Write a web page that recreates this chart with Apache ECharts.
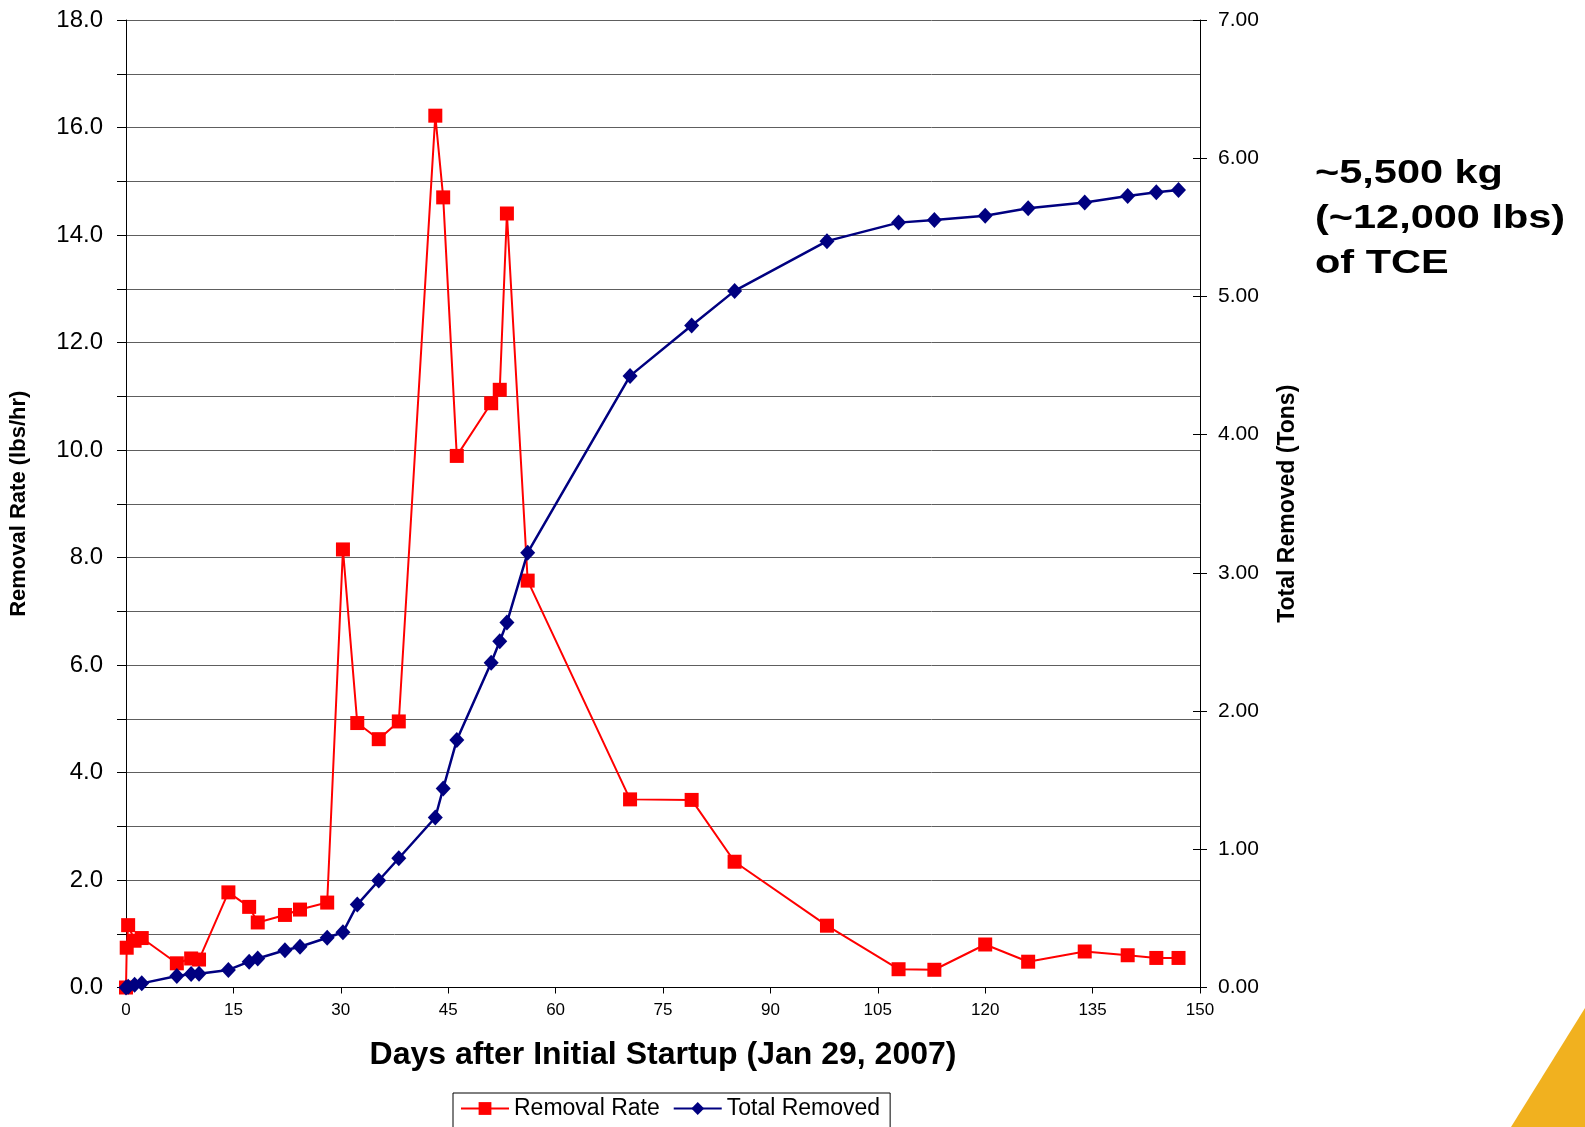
<!DOCTYPE html>
<html>
<head>
<meta charset="utf-8">
<script src="https://cdn.jsdelivr.net/npm/echarts@6/dist/echarts.min.js"></script>
<style>
  html, body { margin: 0; padding: 0; background: #ffffff; }
  #chart { width: 1585px; height: 1127px; }
</style>
</head>
<body>
<div id="chart"></div>
<script>
// Removal rate (lbs/hr) by day after startup
const rateDays = [0, 0.1, 0.3, 1.2, 2.2, 7.1, 9.1, 10.2, 14.3, 17.2, 18.4, 22.2, 24.3, 28.1,
  30.3, 32.3, 35.3, 38.1, 43.2, 44.3, 46.2, 51.0, 52.2, 53.2, 56.1, 70.4, 79.0, 85.0,
  97.9, 107.9, 112.9, 120.0, 126.0, 133.9, 139.9, 143.9, 147.0];
const rateValues = [0, 0.74, 1.16, 0.87, 0.92, 0.45, 0.54, 0.52, 1.77, 1.50, 1.21, 1.35, 1.45, 1.58,
  8.15, 4.92, 4.62, 4.95, 16.22, 14.70, 9.89, 10.87, 11.12, 14.40, 7.57, 3.50, 3.49, 2.34,
  1.15, 0.34, 0.33, 0.80, 0.48, 0.67, 0.60, 0.55, 0.55];

// Cumulative mass removed (tons) by day after startup
const totalDays = [0, 0.3, 1.2, 2.2, 7.1, 9.1, 10.2, 14.3, 17.2, 18.4, 22.2, 24.3, 28.1,
  30.3, 32.3, 35.3, 38.1, 43.2, 44.3, 46.2, 51.0, 52.2, 53.2, 56.1, 70.4, 79.0, 85.0,
  97.9, 107.9, 112.9, 120.0, 126.0, 133.9, 139.9, 143.9, 147.0];
const totalValues = [0, 0.005, 0.02, 0.03, 0.083, 0.098, 0.10, 0.127, 0.187, 0.21, 0.27, 0.295, 0.36,
  0.40, 0.60, 0.774, 0.935, 1.23, 1.44, 1.79, 2.35, 2.505, 2.64, 3.146, 4.425, 4.79, 5.04,
  5.40, 5.534, 5.553, 5.583, 5.638, 5.68, 5.727, 5.754, 5.77];

const seriesNames = ['Removal Rate', 'Total Removed'];
const noteLines = ['~5,500 kg', '(~12,000 lbs)', 'of TCE'];

const FONT = "'Liberation Sans', Arial, Helvetica, sans-serif";

const chart = echarts.init(document.getElementById('chart'), null, { renderer: 'canvas' });

const option = {
  backgroundColor: '#ffffff',
  animation: false,
  textStyle: { fontFamily: FONT, color: '#000' },
  grid: { left: 122, right: 385, top: 20, bottom: 139.5, containLabel: false },
  xAxis: {
    type: 'value',
    min: 0, max: 150, interval: 15,
    name: 'Days after Initial Startup (Jan 29, 2007)',
    nameLocation: 'middle',
    nameGap: 52,
    nameTextStyle: { fontFamily: FONT, fontSize: 32, fontWeight: 'bold', color: '#000' },
    axisLine: { show: true, lineStyle: { color: '#000', width: 1 } },
    axisTick: { show: true, inside: false, length: 6, lineStyle: { color: '#000' } },
    axisLabel: { fontFamily: FONT, fontSize: 17, color: '#000', margin: 14 },
    splitLine: { show: false }
  },
  yAxis: [
    {
      type: 'value',
      position: 'left',
      min: 0, max: 18, interval: 1,
      name: 'Removal Rate (lbs/hr)',
      nameLocation: 'middle',
      nameRotate: 90,
      nameGap: 96,
      nameTextStyle: { fontFamily: FONT, fontSize: 22, fontWeight: 'bold', color: '#000' },
      axisLine: { show: true, lineStyle: { color: '#000', width: 1 } },
      axisTick: { show: true, inside: false, length: 9, lineStyle: { color: '#000' } },
      axisLabel: {
        fontFamily: FONT, fontSize: 24, color: '#000', margin: 23,
        formatter: v => (Math.round(v) % 2 === 0 ? v.toFixed(1) : '')
      },
      splitLine: { show: true, lineStyle: { color: '#5e5e5e', width: 1 } }
    },
    {
      type: 'value',
      position: 'right',
      min: 0, max: 7, interval: 1,
      name: 'Total Removed (Tons)',
      nameLocation: 'middle',
      nameRotate: 90,
      nameGap: 76,
      nameTextStyle: { fontFamily: FONT, fontSize: 23, fontWeight: 'bold', color: '#000' },
      axisLine: { show: true, lineStyle: { color: '#000', width: 1 } },
      axisTick: { show: true, inside: false, length: 7, lineStyle: { color: '#000' } },
      axisLabel: {
        fontFamily: FONT, fontSize: 21, color: '#000', margin: 18,
        formatter: v => v.toFixed(2)
      },
      splitLine: { show: false }
    },
    {
      // inner half of the crossing ticks on the right axis
      type: 'value',
      position: 'right',
      min: 0, max: 7, interval: 1,
      axisLine: { show: false },
      axisTick: { show: true, inside: true, length: 7, lineStyle: { color: '#000' } },
      axisLabel: { show: false },
      splitLine: { show: false }
    }
  ],
  legend: {
    data: seriesNames,
    left: 453,
    top: 1093,
    orient: 'horizontal',
    itemWidth: 48,
    itemHeight: 16,
    itemGap: 13,
    padding: [4, 10, 14, 7],
    borderColor: '#000',
    borderWidth: 1,
    backgroundColor: '#fff',
    textStyle: { fontFamily: FONT, fontSize: 23, color: '#000' }
  },
  series: [
    {
      name: seriesNames[0],
      type: 'line',
      yAxisIndex: 0,
      data: rateDays.map((d, i) => [d, rateValues[i]]),
      symbol: 'rect',
      symbolSize: 14,
      itemStyle: { color: '#ff0000' },
      lineStyle: { color: '#ff0000', width: 2 },
      emphasis: { disabled: true },
      z: 2
    },
    {
      name: seriesNames[1],
      type: 'line',
      yAxisIndex: 1,
      data: totalDays.map((d, i) => [d, totalValues[i]]),
      symbol: 'diamond',
      symbolSize: [15, 16],
      itemStyle: { color: '#000080' },
      lineStyle: { color: '#000080', width: 2.5 },
      emphasis: { disabled: true },
      z: 3
    }
  ],
  graphic: [
    {
      type: 'text',
      left: 1315,
      top: 151,
      scaleX: 1.22,
      style: {
        text: noteLines.join('\n'),
        font: "bold 34px " + FONT,
        lineHeight: 45,
        fill: '#000'
      }
    },
    {
      type: 'polygon',
      shape: { points: [[1511, 1127], [1585, 1008], [1585, 1127]] },
      style: { fill: '#f1b11f' },
      silent: true
    }
  ]
};

chart.setOption(option);
</script>
</body>
</html>
